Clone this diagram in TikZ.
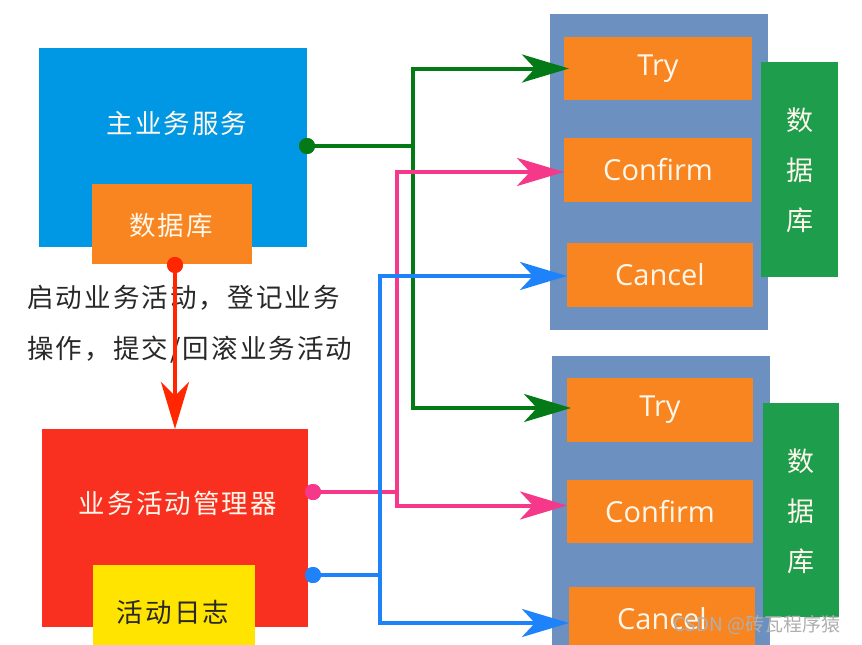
\documentclass[tikz,border=0pt]{standalone}
\usepackage{fontspec}
\setmainfont{Noto Sans CJK SC}
\newfontfamily\cjk[LetterSpace=8]{Noto Sans CJK SC}
\newfontfamily\cjkplain{Noto Sans CJK SC}
\newfontfamily\lat{Open Sans}
\usetikzlibrary{arrows.meta}
\definecolor{mainblue}{RGB}{0,152,228}
\definecolor{boxorange}{RGB}{248,133,31}
\definecolor{boxred}{RGB}{249,48,31}
\definecolor{boxyellow}{RGB}{255,228,0}
\definecolor{panelblue}{RGB}{108,144,191}
\definecolor{dbgreen}{RGB}{30,158,76}
\definecolor{arrgreen}{RGB}{4,122,22}
\definecolor{arrpink}{RGB}{245,56,138}
\definecolor{arrblue}{RGB}{30,130,250}
\definecolor{arrred}{RGB}{255,38,0}
\definecolor{lighttext}{RGB}{255,247,236}
\definecolor{darktext}{RGB}{40,40,40}
\definecolor{wmgray}{RGB}{175,175,175}
\begin{document}
\begin{tikzpicture}[x=1pt,y=-1pt,
  box/.style={rectangle,inner sep=0pt,outer sep=0pt,anchor=north west,draw=none},
  cjktext/.style={inner sep=0pt,font=\cjk\fontsize{26.5}{30}\selectfont},
  optext/.style={text=lighttext,font=\lat\fontsize{29}{33}\selectfont},
  vtext/.style={inner sep=0pt,text=lighttext,align=center,font=\cjkplain\fontsize{27}{50}\selectfont},
  conn/.style={line width=4pt,line join=miter},
  arr/.style={conn,-{Stealth[length=47pt,width=28pt,inset=13pt]}},
  dot/.style={circle,inner sep=0pt,outer sep=0pt,minimum size=16pt}]
\path[use as bounding box] (0,0) rectangle (862,645);
\clip (0,0) rectangle (862,645);
\fill[white] (0,0) rectangle (862,645);

% left side
\node[box,fill=mainblue,minimum width=268pt,minimum height=199pt] (main) at (39,48) {};
\node[cjktext,text=lighttext] (mainT) at (177,123) {主业务服务};
\node[box,fill=boxorange,minimum width=160pt,minimum height=80pt] (db) at (92,184) {};
\node[cjktext,text=lighttext] (dbT) at (171,225) {数据库};

\node[box,fill=boxred,minimum width=266pt,minimum height=198pt] (mgr) at (42,429) {};
\node[cjktext,text=lighttext] (mgrT) at (178,503) {业务活动管理器};
\node[box,fill=boxyellow,minimum width=162pt,minimum height=100pt] (log) at (93,565) {};
\node[cjktext,text=darktext] (logT) at (173,612) {活动日志};

\node[cjktext,text=darktext,anchor=west] (desc1) at (27,298) {启动业务活动，登记业务};
\node[cjktext,text=darktext,anchor=west] (desc2) at (27,350) {操作，提交/回滚业务活动};

% right panels
\node[box,fill=panelblue,minimum width=218pt,minimum height=316pt] (p1) at (550,14) {};
\node[box,fill=boxorange,minimum width=188pt,minimum height=63pt,optext] (try1) at (564,37) {Try};
\node[box,fill=boxorange,minimum width=188pt,minimum height=64pt,optext] (cf1) at (564,138) {Confirm};
\node[box,fill=boxorange,minimum width=186pt,minimum height=64pt,optext] (cc1) at (567,243) {Cancel};
\node[box,fill=dbgreen,minimum width=77pt,minimum height=215pt] (g1) at (761,62) {};
\node[vtext] (g1T) at (800,170) {数\\据\\库};

\node[box,fill=panelblue,minimum width=218pt,minimum height=320pt] (p2) at (552,356) {};
\node[box,fill=boxorange,minimum width=186pt,minimum height=64pt,optext] (try2) at (567,378) {Try};
\node[box,fill=boxorange,minimum width=186pt,minimum height=63pt,optext] (cf2) at (567,480) {Confirm};
\node[box,fill=boxorange,minimum width=186pt,minimum height=64pt,optext] (cc2) at (569,587) {Cancel};
\node[box,fill=dbgreen,minimum width=76pt,minimum height=214pt] (g2) at (763,403) {};
\node[vtext] (g2T) at (801,511) {数\\据\\库};

% dots
\node[dot,fill=arrgreen] (gdot) at (307,146) {};
\node[dot,fill=arrpink] (pdot) at (313,492) {};
\node[dot,fill=arrblue] (bdot) at (313,575) {};
\node[dot,fill=arrred] (rdot) at (175,265) {};

% junction coordinates
\coordinate (gJ) at (413,146);
\coordinate (pJ) at (397,492);
\coordinate (bJ) at (380,575);

% green
\draw[conn,arrgreen] (gdot.center) -- (gJ);
\draw[arr,arrgreen,shorten >=-5pt] (gJ) |- ([yshift=0pt]try1.west);
\draw[arr,arrgreen,shorten >=-4pt] (gJ) |- ([yshift=2pt]try2.west);
% pink
\draw[conn,arrpink] (pdot.center) -- (pJ);
\draw[arr,arrpink] (pJ) |- ([yshift=-2pt]cf1.west);
\draw[arr,arrpink] (pJ) |- ([yshift=6pt]cf2.west);
% blue
\draw[conn,arrblue] (bdot.center) -- (bJ);
\draw[arr,arrblue] (bJ) |- ([yshift=-1pt]cc1.west);
\draw[arr,arrblue] (bJ) |- ([yshift=-4pt]cc2.west);
% red
\draw[conn,arrred,-{Stealth[length=47pt,width=28pt,inset=14pt]}] (rdot.center) -- (mgr.north);

% redraw dots on top
\fill[arrgreen] (gdot) circle (8pt);
\fill[arrpink] (pdot) circle (8pt);
\fill[arrblue] (bdot) circle (8pt);
\fill[arrred] (rdot) circle (8pt);

% watermark
\node[inner sep=0pt,anchor=west,text=wmgray,font=\cjkplain\fontsize{19}{22}\selectfont] (wm) at (673,625) {CSDN @砖瓦程序猿};
\end{tikzpicture}
\end{document}
